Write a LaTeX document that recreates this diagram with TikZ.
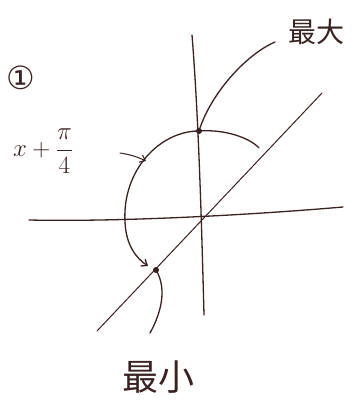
\documentclass[tikz,border=0pt]{standalone}
\usepackage{fontspec}
\usetikzlibrary{arrows.meta}
\newfontfamily\jpfont{Noto Sans CJK JP}
\newfontfamily\symfont{DejaVu Sans}
\definecolor{ink}{HTML}{3A2222}
\tikzset{
  pen/.style={draw=ink, line width=1.3pt, line cap=round, line join=round},
  thinpen/.style={draw=ink, line width=1pt, line cap=round},
  hook/.style={-{Straight Barb[length=5pt,width=8pt]}},
  dotmark/.style={circle, fill=ink, inner sep=0pt, minimum size=6pt},
  lbl/.style={text=ink, inner sep=0pt}
}
\begin{document}
\begin{tikzpicture}[x=1pt,y=-1pt]
\useasboundingbox[fill=white] (0,0) rectangle (358,401);
% coordinates
\coordinate (top) at (199,131);
\coordinate (bot) at (156,270);
\coordinate (O) at (202,218);
\coordinate (hl) at (29,220);
\coordinate (hr) at (343,207);
\coordinate (vt) at (192,35);
\coordinate (vb) at (204,315);
\coordinate (dl) at (97,331);
\coordinate (dr) at (322,93);
\coordinate (maxend) at (275,42);
\coordinate (minend) at (150,333);
\coordinate (arcstart) at (259,148);
\coordinate (arcleft) at (125,222);
\coordinate (arcend) at (148,266);
% axes
\draw[pen] (hl) .. controls (120,222) and (250,215) .. (hr);
\draw[pen] (vt) .. controls (198,110) and (201,200) .. (vb);
% diagonal line
\draw[thinpen] (dl) -- (dr);
% upper curve (max)
\draw[pen] (top) .. controls (210,95) and (245,55) .. (maxend);
% lower curve (min)
\draw[pen] (bot) .. controls (168,290) and (160,315) .. (minend);
% arc with arrow
\draw[pen, hook] (arcstart) .. controls (250,138) and (225,129) .. (top)
  .. controls (160,131) and (122,170) .. (arcleft)
  .. controls (126,245) and (136,258) .. (arcend);
% label arrow
\node[lbl, font=\fontsize{24}{28}\selectfont] (xl) at (43,151) {$x+\displaystyle\frac{\pi}{4}$};
\coordinate (la) at (120,153);
\coordinate (lb) at (146,161);
\draw[thinpen, hook] (la) to[bend left=8] (lb);
% dots
\node[dotmark] (d1) at (top) {};
\node[dotmark] (d2) at (bot) {};
% labels
\node[lbl, font=\symfont\fontsize{32}{34}\selectfont] (one) at (21,78) {①};
\node[lbl, font=\jpfont\fontsize{28}{30}\selectfont] (max) at (316,32) {最大};
\node[lbl, font=\jpfont\fontsize{36}{38}\selectfont] (min) at (158,377) {最小};
\end{tikzpicture}
\end{document}
